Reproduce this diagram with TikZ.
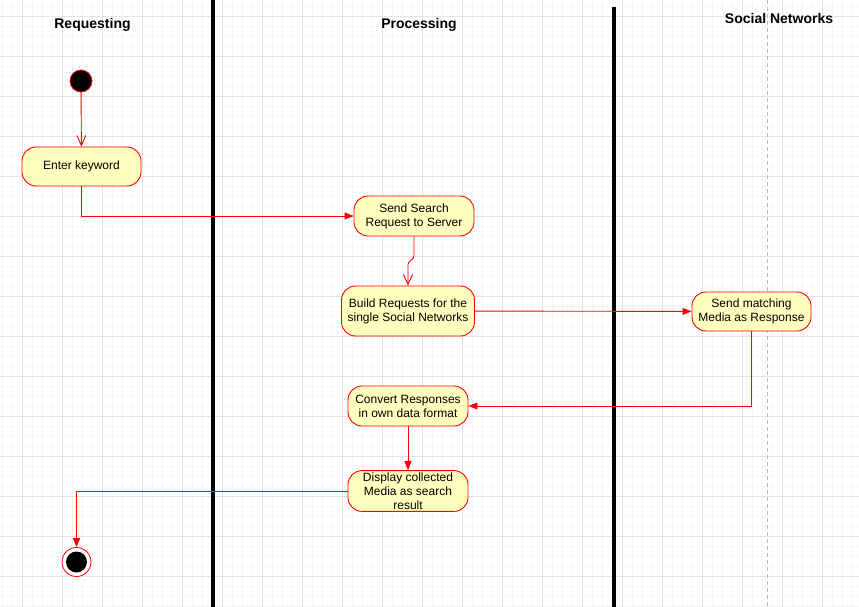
\documentclass[tikz,border=0pt]{standalone}
\usepackage{fontspec}
\setmainfont{Liberation Sans}
\usetikzlibrary{arrows.meta}
\definecolor{actfill}{HTML}{FFFFC0}
\definecolor{gridminor}{HTML}{F5F5F5}
\definecolor{gridmajor}{HTML}{E4E4E4}
\begin{document}
\begin{tikzpicture}[x=1pt,y=-1pt,
  action/.style={draw=red, line width=0.9pt, fill=actfill, rounded corners=14pt, minimum width=120pt,
    minimum height=40pt, align=center, inner sep=2pt,
    font=\fontsize{12}{14}\selectfont, text=black},
  flow/.style={draw=red, line width=0.9pt, -{Triangle[length=9pt,width=7pt]}},
  openflow/.style={draw=red, line width=0.9pt, -{Straight Barb[length=10pt,width=9pt]}},
  lane/.style={line width=4pt, black},
  header/.style={font=\fontsize{14}{16}\selectfont\bfseries, text=black}]
\fill[white] (0,0) rectangle (859,607);
\useasboundingbox (0,0) rectangle (859,607);

% background grid
\foreach \x in {2,12,...,852} \draw[gridminor, line width=0.8pt] (\x,0) -- (\x,607);
\foreach \y in {6,16,...,606} \draw[gridminor, line width=0.8pt] (0,\y) -- (859,\y);
\foreach \x in {22,62,...,842} \draw[gridmajor, line width=0.8pt] (\x,0) -- (\x,607);
\foreach \y in {16,56,...,596} \draw[gridmajor, line width=0.8pt] (0,\y) -- (859,\y);

% swimlane separators
\draw[lane] (213,0) -- (213,607);
\draw[lane] (614,7) -- (614,607);
\draw[gray!55, line width=0.8pt, dash pattern=on 4pt off 3pt] (767,0) -- (767,607);

% lane headers
\node[header] (hreq) at (92.5,24.5) {Requesting};
\node[header] (hproc) at (419,24.5) {Processing};
\node[header] (hsoc) at (779,18.5) {Social Networks};

% start and end
\node[circle, fill=black, draw=red, line width=0.8pt, minimum size=22pt, inner sep=0pt] (start) at (81,81) {};
\node[circle, fill=white, draw=red, line width=0.8pt, minimum size=29pt, inner sep=0pt] (end) at (76.5,562) {};
\node[circle, fill=black, minimum size=21pt, inner sep=0pt] (endcore) at (end) {};

% activities
\node[action, minimum width=119pt, minimum height=39pt] (enter) at (81.5,166.5) {Enter keyword};
\node[action] (search) at (414,216) {Send Search\\Request to Server};
\node[action, minimum width=133pt, minimum height=50pt] (build) at (408,311) {Build Requests for the\\single Social Networks};
\node[action, minimum width=119pt, minimum height=39pt] (send) at (751.5,311.5) {Send matching\\Media as Response};
\node[action] (convert) at (408,406) {Convert Responses\\in own data format};
\node[action] (display) at (408,491) {Display collected\\Media as search\\result};

% control flow
\draw[openflow] (start) -- (enter);
\draw[flow] (enter.south) |- (search.west);
\draw[openflow] (search.south) -- ++(0,19) .. controls +(0,5) and +(0,-4) .. ++(-6,9) -- (build.north);
\draw[flow] (build) -- (send);
\draw[flow] (send.south) |- (convert.east);
\draw[flow] (convert) -- (display);
\draw[flow] (display.west) -| (end.north);
\end{tikzpicture}
\end{document}
